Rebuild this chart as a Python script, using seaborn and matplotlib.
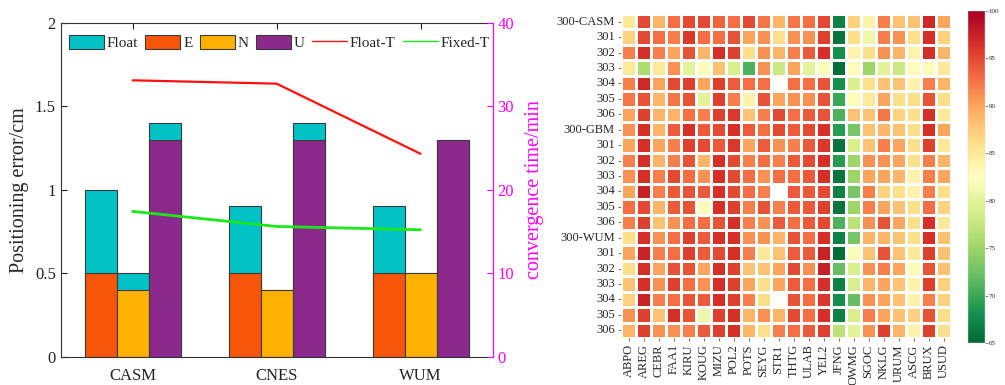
import numpy as np
import pandas as pd
import matplotlib
matplotlib.use("Agg")
import matplotlib.pyplot as plt
import seaborn as sns
from matplotlib.patches import Patch
from matplotlib.lines import Line2D

sns.set_style("ticks")
plt.rcParams['font.family'] = ['Liberation Serif', 'DejaVu Serif']
plt.rcParams['mathtext.fontset'] = 'stix'

# ---------------- data: left panel ----------------
centers = ['CASM', 'CNES', 'WUM']
components = ['E', 'N', 'U']
float_E = [1.0, 0.9, 0.9]
float_N = [0.5, 0.4, 0.5]
float_U = [1.4, 1.4, 1.3]
fixed_E = [0.5, 0.5, 0.5]
fixed_N = [0.4, 0.4, 0.5]
fixed_U = [1.3, 1.3, 1.3]
float_T = [33.1, 32.7, 24.3]
fixed_T = [17.4, 15.6, 15.2]

# ---------------- data: right panel ----------------
stations = ['ABPO', 'AREG', 'CEBR', 'FAA1', 'KIRU', 'KOUG', 'MIZU', 'POL2', 'POTS', 'SEYG',
            'STR1', 'THTG', 'ULAB', 'YEL2', 'JFNG', 'OWMG', 'SGOC', 'NKLG', 'URUM', 'ASCG',
            'BRUX', 'USUD']
row_labels = ['300-CASM', '301', '302', '303', '304', '305', '306',
              '300-GBM', '301', '302', '303', '304', '305', '306',
              '300-WUM', '301', '302', '303', '304', '305', '306']
nan = np.nan
casm_300 = [85, 95, 89, 93, 95, 95, 93.5, 93, 95, 92.5, 89, 92.5, 93, 95, 67, 87, 84, 92, 88, 88, 97, 90]
casm_301 = [87, 95, 93, 92, 96, 93, 93, 94.5, 90, 91, 86, 91, 91, 95.5, 66, 86, 81, 92, 91, 86, 96.5, 87]
casm_302 = [92, 96.5, 92, 90, 94.5, 89, 96.5, 95.5, 86, 91, 89, 92, 94, 96.5, 68, 84, 86, 91, 89, 84, 96.5, 89]
casm_303 = [85, 76, 85, 91, 80, 83, 88, 79, 71, 91, 78, 90, 80, 82, 65.5, 83, 75, 80, 78, 83, 83, 85]
casm_304 = [92, 97, 90, 95, 95.5, 90, 95.5, 94, 93, 93, nan, 93, 93, 94.5, 68, 79, 86, 88, 88, 84, 92, 89]
casm_305 = [92.5, 94.5, 89, 92.5, 94.5, 80, 95.5, 92, 84, 94.5, 90, 91, 91, 94.5, 70, 83, 85, 90, 86, 86, 94.5, 86]
casm_306 = [90, 95.5, 89, 89, 93, 92, 95.5, 96, 88, 92, 95, 93, 94, 94.5, 71, 88, 88, 92.5, 87, 86, 96.5, 85]
gbm_300 = [91, 96.5, 89, 94, 96.5, 94, 95, 96.5, 94, 93, 95, 94, 95, 96.5, 69, 73, 88, 89, 88, 86, 96.5, 90]
gbm_301 = [90, 96.5, 90, 92, 95.5, 95, 94, 96, 90, 94, 91, 92, 94, 96, 66, 79, 88, 92, 90, 86, 95.5, 85]
gbm_302 = [92, 96.5, 89, 92, 94.5, 89, 96.5, 95, 92, 93, 92, 94, 95, 96.5, 69, 75, 91, 91, 90, 86, 92, 89]
gbm_303 = [91, 96.5, 92, 95, 93, 91, 96.5, 95, 93, 91, 93, 93, 94, 96.5, 66, 75, 90, 90, 89, 84, 92, 90]
gbm_304 = [90, 97.5, 92, 94, 94.5, 94, 96.5, 95, 93, 92, nan, 94, 94, 95, 67, 73, 92, 87, 86, 84, 92, 86]
gbm_305 = [93, 95, 89, 94, 94.5, 83, 96.5, 95.5, 92, 94.5, 92, 94, 94, 95.5, 66, 75, 92, 90, 88, 86, 93, 87]
gbm_306 = [92, 95.5, 88, 91, 93, 93, 94.5, 96.5, 92, 91, 94, 93, 94, 95, 71, 77, 91, 94.5, 90, 86, 96.5, 85]
wum_300 = [86, 96.5, 91, 93, 95.5, 94, 96.5, 96.5, 91, 91, 89, 94.5, 93, 96.5, 67, 73, 89, 89, 88, 86, 96.5, 88]
wum_301 = [90, 97.5, 92, 93, 95.5, 94, 95, 96.5, 92, 85, 88, 94, 94, 97.5, 65.5, 82, 88, 94.5, 88, 85, 95.5, 88]
wum_302 = [86, 96.5, 90, 94.5, 94.5, 90, 96.5, 95.5, 88, 88, 90, 95, 91, 97.5, 72, 79, 91, 92, 90, 82, 94.5, 88]
wum_303 = [88, 96.5, 91, 95.5, 93, 91, 96.5, 95.5, 90, 86, 90, 94, 93, 96.5, 67, 79, 89, 90, 88, 84, 95.5, 87]
wum_304 = [87, 97.5, 92, 93, 94.5, 94, 96.5, 95.5, 92, 86, nan, 94.5, 93, 96, 68, 72, 91, 90, 88, 84, 92, 87]
wum_305 = [91, 95.5, 88, 96.5, 94.5, 81, 95.5, 96.5, 89, 91, 89, 95, 93, 96.5, 67, 79, 92, 90, 88, 87, 94.5, 86]
wum_306 = [89, 95.5, 91, 91, 92, 94, 95.5, 96.5, 89, 86, 92, 93, 94, 95.5, 77, 80, 91, 95.5, 89, 84, 95.5, 86]

heat_rows = [casm_300, casm_301, casm_302, casm_303, casm_304, casm_305, casm_306,
             gbm_300, gbm_301, gbm_302, gbm_303, gbm_304, gbm_305, gbm_306,
             wum_300, wum_301, wum_302, wum_303, wum_304, wum_305, wum_306]

# ---------------- colours ----------------
c_float = '#00C2C7'
c_E = '#F7560A'
c_N = '#FFB000'
c_U = '#8B2A8C'
c_mag = '#FF00FF'
c_red = '#FF1010'
c_green = '#1BE81B'

W, H = 1005, 385
fig = plt.figure(figsize=(W / 100, H / 100), dpi=100)

def frac(x0, y0, x1, y1):
    return [x0 / W, 1 - y1 / H, (x1 - x0) / W, (y1 - y0) / H]

ax = fig.add_axes(frac(60.7, 22.7, 492.5, 356.7))

df_float = pd.DataFrame({
    'center': np.repeat(centers, 3),
    'comp': components * 3,
    'value': [v for trip in zip(float_E, float_N, float_U) for v in trip],
})
df_fixed = pd.DataFrame({
    'center': np.repeat(centers, 3),
    'comp': components * 3,
    'value': [v for trip in zip(fixed_E, fixed_N, fixed_U) for v in trip],
})

sns.barplot(data=df_float, x='center', y='value', hue='comp', order=centers,
            hue_order=components, palette={'E': c_float, 'N': c_float, 'U': c_float},
            width=0.667, dodge=True, saturation=1, errorbar=None, legend=False,
            edgecolor='#3a3a3a', linewidth=0.8, ax=ax)
sns.barplot(data=df_fixed, x='center', y='value', hue='comp', order=centers,
            hue_order=components, palette={'E': c_E, 'N': c_N, 'U': c_U},
            width=0.667, dodge=True, saturation=1, errorbar=None, legend=False,
            edgecolor='#3a3a3a', linewidth=0.8, ax=ax)

ax.set_xlim(-0.5, 2.5)
ax.set_ylim(0, 2)
ax.set_yticks([0, 0.5, 1, 1.5, 2])
ax.set_yticklabels(['0', '0.5', '1', '1.5', '2'])
ax.set_xlabel('')
ax.set_ylabel('Positioning error/cm', fontsize=14.5, labelpad=4)
ax.tick_params(axis='both', direction='in', labelsize=12, length=4, width=0.8,
               top=True, right=False, colors='#222222')
ax.tick_params(axis='x', pad=8)
for s in ax.spines.values():
    s.set_color('#333333')
    s.set_linewidth(0.8)

ax2 = ax.twinx()
sns.lineplot(x=[0, 1, 2], y=float_T, ax=ax2, color=c_red, linewidth=1.6)
sns.lineplot(x=[0, 1, 2], y=fixed_T, ax=ax2, color=c_green, linewidth=2.0)
ax2.set_ylim(0, 40)
ax2.set_yticks([0, 10, 20, 30, 40])
ax2.set_ylabel('convergence time/min', fontsize=14.5, color=c_mag)
ax2.yaxis.set_label_coords(1.075, 0.5)
ax2.tick_params(axis='y', direction='in', labelsize=12, length=4, width=0.8,
                colors=c_mag)
ax2.spines['right'].set_color(c_mag)
ax2.spines['right'].set_linewidth(0.8)
for k in ['left', 'top', 'bottom']:
    ax2.spines[k].set_visible(False)
ax2.set_xlim(-0.5, 2.5)

handles = [Patch(facecolor=c_float, edgecolor='#3a3a3a', linewidth=0.8, label='Float'),
           Patch(facecolor=c_E, edgecolor='#3a3a3a', linewidth=0.8, label='E'),
           Patch(facecolor=c_N, edgecolor='#3a3a3a', linewidth=0.8, label='N'),
           Patch(facecolor=c_U, edgecolor='#3a3a3a', linewidth=0.8, label='U'),
           Line2D([0], [0], color=c_red, linewidth=1.0, label='Float-T'),
           Line2D([0], [0], color=c_green, linewidth=1.0, label='Fixed-T')]
ax2.legend(handles=handles, ncol=6, loc='upper left', bbox_to_anchor=(0.019, 0.962),
           frameon=False, fontsize=11, handlelength=2.29, handleheight=0.98,
           handletextpad=0.2, columnspacing=0.46, borderpad=0, borderaxespad=0)

# ---------------- heatmap ----------------
hax = fig.add_axes(frac(621, 14, 951, 338))
cax = fig.add_axes(frac(967.5, 11, 984.5, 343))
heat_df = pd.DataFrame(heat_rows, columns=stations)
sns.heatmap(heat_df, ax=hax, cbar_ax=cax, cmap='RdYlGn_r', vmin=65, vmax=100,
            linewidths=1.0, linecolor='white')
hax.set_yticks(np.arange(len(row_labels)) + 0.5)
hax.set_yticklabels(row_labels, rotation=0, fontsize=9)
hax.set_xticks(np.arange(len(stations)) + 0.5)
hax.set_xticklabels(stations, rotation=90, fontsize=9)
hax.tick_params(axis='both', length=2.5, width=0.6, color='#555555', pad=2)
cbar = hax.collections[0].colorbar
cbar.set_ticks([65, 70, 75, 80, 85, 90, 95, 100])
cax.tick_params(labelsize=5, length=2, width=0.5, color='#555555', pad=1)
cbar.outline.set_linewidth(0.3)
cbar.outline.set_edgecolor('#dddddd')

fig.savefig('out.png', dpi=100)
